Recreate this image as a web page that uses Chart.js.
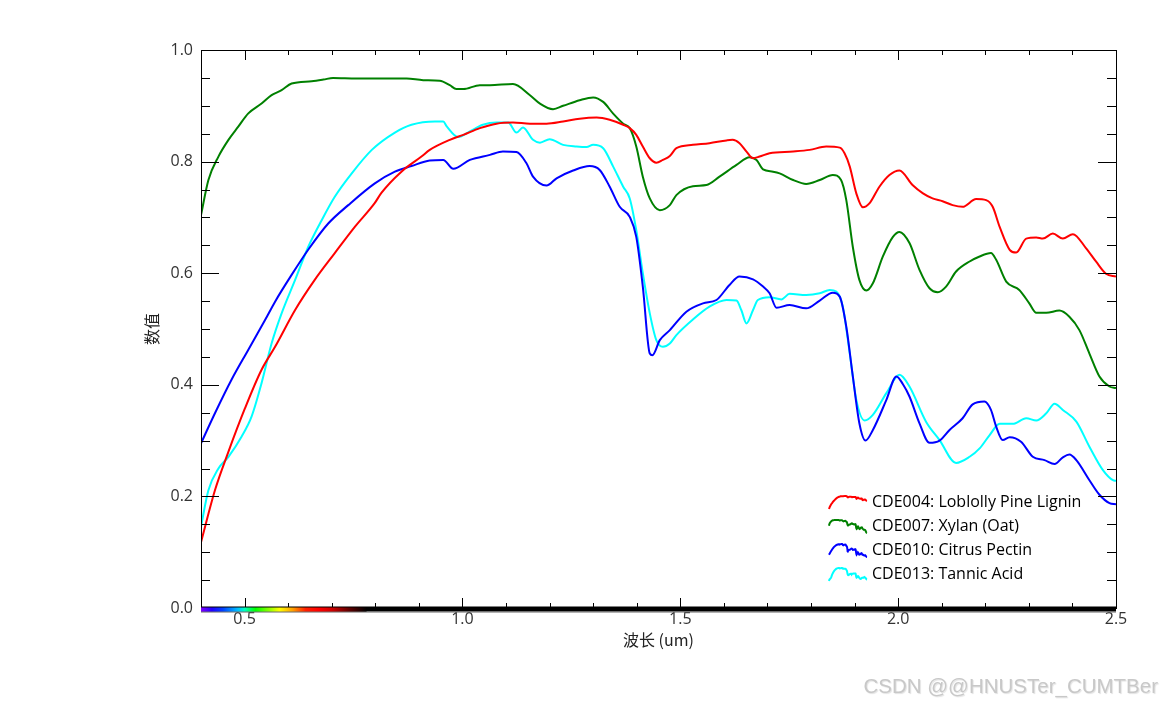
<!DOCTYPE html>
<html>
<head>
<meta charset="utf-8">
<script src="https://cdn.jsdelivr.net/npm/chart.js@4.4.1/dist/chart.umd.min.js"></script>
<style>
html,body{margin:0;padding:0;background:#fff;}
#wrap{position:relative;width:1162px;height:708px;overflow:hidden;}
#c{display:block;}
#wm{position:absolute;right:4px;top:676px;font:20.5px "Liberation Sans",Arial,sans-serif;line-height:20px;color:#c8c8c8;text-shadow:1px 1px 1px #e2e2e2;white-space:nowrap;}
</style>
</head>
<body>
<div id="wrap"><canvas id="c" width="1162" height="708"></canvas><div id="wm">CSDN @@HNUSTer_CUMTBer</div></div>
<script>
// ---- data (wavelength in um, reflectance) ----
const seriesNames = ["CDE004: Loblolly Pine Lignin", "CDE007: Xylan (Oat)", "CDE010: Citrus Pectin", "CDE013: Tannic Acid"];
const seriesColors = ["#ff0000", "#008000", "#0000ff", "#00ffff"];
const xTickValues = [0.5, 1.0, 1.5, 2.0, 2.5];
const yTickValues = [0.0, 0.2, 0.4, 0.6, 0.8, 1.0];
const xAxisTitle = "波长 (um)";
const yAxisTitle = "数值";

const ligninX = [0.400,0.432,0.462,0.501,0.539,0.570,0.616,0.661,0.707,0.753,0.799,0.814,0.860,0.906,0.925,0.971,1.002,1.040,1.078,1.116,1.155,1.193,1.231,1.269,1.308,1.338,1.369,1.384,1.399,1.414,1.430,1.445,1.460,1.476,1.491,1.529,1.567,1.606,1.620,1.636,1.652,1.667,1.682,1.705,1.759,1.797,1.835,1.866,1.877,1.889,1.904,1.919,1.934,1.957,1.980,2.003,2.033,2.057,2.079,2.102,2.125,2.148,2.179,2.202,2.217,2.233,2.256,2.271,2.294,2.317,2.332,2.355,2.378,2.401,2.431,2.454,2.477,2.500];
const ligninY = [0.118,0.211,0.278,0.358,0.427,0.468,0.534,0.588,0.636,0.683,0.726,0.744,0.782,0.809,0.821,0.839,0.848,0.860,0.868,0.870,0.868,0.868,0.872,0.877,0.879,0.875,0.866,0.860,0.848,0.827,0.806,0.798,0.803,0.810,0.824,0.830,0.833,0.838,0.839,0.833,0.818,0.806,0.809,0.815,0.818,0.821,0.827,0.825,0.815,0.791,0.743,0.718,0.725,0.755,0.776,0.784,0.758,0.743,0.734,0.729,0.722,0.719,0.733,0.731,0.719,0.683,0.642,0.637,0.662,0.664,0.662,0.671,0.662,0.670,0.645,0.621,0.599,0.594];

const xylanX = [0.400,0.417,0.440,0.463,0.486,0.508,0.539,0.562,0.585,0.608,0.654,0.681,0.703,0.757,0.833,0.872,0.910,0.948,0.971,0.986,1.002,1.040,1.063,1.116,1.155,1.178,1.208,1.231,1.269,1.300,1.323,1.346,1.369,1.384,1.399,1.414,1.430,1.453,1.476,1.491,1.529,1.560,1.590,1.629,1.659,1.675,1.690,1.713,1.728,1.759,1.789,1.820,1.850,1.869,1.881,1.896,1.911,1.927,1.942,1.965,1.988,2.003,2.026,2.049,2.072,2.091,2.110,2.133,2.164,2.187,2.213,2.225,2.248,2.278,2.301,2.317,2.340,2.370,2.393,2.416,2.439,2.462,2.485,2.500];
const xylanY = [0.704,0.767,0.809,0.839,0.863,0.886,0.904,0.919,0.928,0.940,0.944,0.947,0.950,0.949,0.949,0.949,0.946,0.945,0.937,0.930,0.930,0.937,0.937,0.939,0.919,0.904,0.894,0.900,0.910,0.915,0.907,0.886,0.868,0.860,0.827,0.773,0.734,0.713,0.722,0.740,0.756,0.758,0.773,0.794,0.808,0.803,0.786,0.782,0.779,0.767,0.760,0.767,0.776,0.767,0.731,0.647,0.588,0.569,0.582,0.630,0.665,0.674,0.654,0.606,0.573,0.566,0.576,0.603,0.621,0.630,0.636,0.624,0.585,0.570,0.546,0.529,0.529,0.533,0.522,0.498,0.456,0.415,0.397,0.394];

const pectinX = [0.400,0.432,0.470,0.508,0.547,0.570,0.608,0.646,0.692,0.738,0.799,0.845,0.883,0.925,0.956,0.979,1.017,1.063,1.093,1.124,1.147,1.162,1.193,1.216,1.254,1.292,1.315,1.338,1.361,1.384,1.399,1.414,1.430,1.436,1.453,1.476,1.514,1.552,1.583,1.613,1.636,1.667,1.690,1.705,1.721,1.751,1.789,1.820,1.850,1.866,1.881,1.896,1.911,1.925,1.942,1.973,1.996,2.011,2.026,2.049,2.072,2.095,2.118,2.148,2.171,2.198,2.213,2.225,2.240,2.256,2.282,2.309,2.336,2.359,2.378,2.393,2.409,2.439,2.462,2.485,2.500];
const pectinY = [0.295,0.349,0.409,0.462,0.516,0.549,0.597,0.642,0.689,0.722,0.761,0.782,0.792,0.802,0.803,0.787,0.803,0.812,0.818,0.817,0.797,0.773,0.757,0.770,0.784,0.792,0.785,0.755,0.719,0.701,0.665,0.576,0.456,0.453,0.480,0.498,0.531,0.546,0.552,0.579,0.594,0.589,0.576,0.564,0.538,0.543,0.537,0.551,0.565,0.558,0.504,0.415,0.331,0.300,0.319,0.373,0.415,0.401,0.379,0.331,0.296,0.300,0.319,0.340,0.365,0.370,0.355,0.325,0.301,0.306,0.298,0.271,0.265,0.258,0.270,0.275,0.265,0.229,0.203,0.188,0.186];

const tannicX = [0.400,0.417,0.440,0.463,0.493,0.516,0.539,0.562,0.585,0.616,0.646,0.677,0.707,0.746,0.792,0.845,0.883,0.937,0.956,0.964,0.990,1.017,1.047,1.078,1.105,1.124,1.139,1.162,1.178,1.200,1.231,1.262,1.285,1.300,1.323,1.346,1.369,1.384,1.399,1.414,1.430,1.445,1.460,1.476,1.491,1.529,1.567,1.606,1.629,1.640,1.652,1.667,1.678,1.705,1.732,1.751,1.789,1.820,1.843,1.858,1.873,1.889,1.904,1.923,1.942,1.973,2.003,2.026,2.064,2.095,2.133,2.164,2.187,2.210,2.233,2.263,2.294,2.317,2.340,2.359,2.378,2.409,2.439,2.470,2.493,2.500];
const tannicY = [0.146,0.211,0.250,0.271,0.307,0.343,0.403,0.474,0.528,0.588,0.647,0.695,0.737,0.779,0.821,0.852,0.866,0.872,0.872,0.863,0.844,0.854,0.866,0.870,0.870,0.852,0.861,0.839,0.834,0.840,0.830,0.827,0.826,0.830,0.824,0.791,0.755,0.734,0.677,0.600,0.528,0.480,0.468,0.474,0.489,0.517,0.540,0.552,0.551,0.534,0.510,0.534,0.552,0.557,0.553,0.563,0.561,0.564,0.570,0.567,0.540,0.456,0.373,0.336,0.346,0.385,0.418,0.397,0.334,0.301,0.260,0.271,0.286,0.310,0.330,0.330,0.340,0.336,0.349,0.366,0.355,0.334,0.289,0.247,0.229,0.228];

const allX = [ligninX, xylanX, pectinX, tannicX];
const allY = [ligninY, xylanY, pectinY, tannicY];

const FONT = '"Open Sans", "Noto Sans", "Noto Sans CJK SC", sans-serif';
const CJK = '"Noto Sans CJK SC", "Open Sans", sans-serif';

const datasets = seriesNames.map((name, i) => ({
  label: name,
  data: allX[i].map((x, k) => ({x: x, y: allY[i][k]})),
  borderColor: seriesColors[i],
  backgroundColor: seriesColors[i],
  borderWidth: 2,
  pointRadius: 0,
  fill: false,
  cubicInterpolationMode: 'monotone'
}));

const framePlugin = {
  id: 'frame',
  afterDraw(chart) {
    const ctx = chart.ctx;
    const a = chart.chartArea;
    const xs = chart.scales.x, ys = chart.scales.y;
    ctx.save();
    ctx.strokeStyle = '#000';
    ctx.lineWidth = 1;
    ctx.strokeRect(Math.round(a.left) + 0.5, Math.round(a.top) + 0.5, Math.round(a.right - a.left), Math.round(a.bottom - a.top));
    ctx.beginPath();
    for (let i = 4; i <= 25; i++) {
      const px = Math.round(xs.getPixelForValue(i / 10)) + 0.5;
      const len = (i % 5 === 0) ? 10 : 5;
      ctx.moveTo(px, a.bottom); ctx.lineTo(px, a.bottom - len);
      ctx.moveTo(px, a.top); ctx.lineTo(px, a.top + len);
    }
    for (let i = 0; i <= 20; i++) {
      const py = Math.round(ys.getPixelForValue(i / 20)) + 0.5;
      const len = (i % 4 === 0) ? 18 : 9;
      ctx.moveTo(a.left, py); ctx.lineTo(a.left + len, py);
      ctx.moveTo(a.right, py); ctx.lineTo(a.right - len, py);
    }
    ctx.stroke();
    const x0 = xs.getPixelForValue(0.4), x1 = xs.getPixelForValue(2.5);
    ctx.fillStyle = '#000';
    ctx.fillRect(x0, a.bottom - 1.5, x1 - x0, 5);
    ctx.fillStyle = '#666';
    ctx.fillRect(x0, a.bottom + 3.5, x1 - x0, 1);
    const s0 = xs.getPixelForValue(0.40), s1 = xs.getPixelForValue(0.78);
    const g = ctx.createLinearGradient(s0, 0, s1, 0);
    const stops = [[0.40,'#8000ff'],[0.425,'#2000ff'],[0.45,'#0040ff'],[0.485,'#00c0ff'],[0.50,'#00ffc0'],[0.525,'#00ff00'],[0.56,'#a0ff00'],[0.58,'#ffff00'],[0.61,'#ffa000'],[0.64,'#ff2000'],[0.67,'#ff0000'],[0.70,'#d00000'],[0.74,'#600000'],[0.78,'#000000']];
    stops.forEach(s => g.addColorStop((s[0] - 0.40) / 0.38, s[1]));
    ctx.fillStyle = g;
    ctx.fillRect(s0, a.bottom - 0.5, s1 - s0, 4);
    // legend
    const lx = 829, lw = 38, lh = 13, tx = 872;
    const ly = [501, 525, 549, 573];
    ctx.font = '16px ' + FONT;
    ctx.textBaseline = 'middle';
    ctx.textAlign = 'left';
    for (let i = 0; i < seriesNames.length; i++) {
      const X = allX[i], Y = allY[i];
      const mn = Math.min(...Y), mx = Math.max(...Y);
      const bot = ly[i] + 8;
      ctx.beginPath();
      ctx.strokeStyle = seriesColors[i];
      ctx.lineWidth = 2;
      X.forEach((x, k) => {
        const px = lx + (x - 0.4) / 2.1 * lw;
        const py = bot - (Y[k] - mn) / (mx - mn) * lh;
        if (k === 0) ctx.moveTo(px, py); else ctx.lineTo(px, py);
      });
      ctx.stroke();
      ctx.fillStyle = '#000';
      ctx.fillText(seriesNames[i], tx, ly[i] + 1);
    }
    ctx.restore();
  }
};

new Chart(document.getElementById('c'), {
  type: 'line',
  data: { datasets: datasets },
  options: {
    responsive: false,
    animation: false,
    devicePixelRatio: 1,
    layout: { padding: { left: 0, right: 46, top: 50, bottom: 0 } },
    plugins: { legend: { display: false }, tooltip: { enabled: false } },
    scales: {
      x: {
        type: 'linear',
        min: 0.4, max: 2.5,
        grid: { display: false, drawTicks: false },
        border: { display: false },
        afterBuildTicks: s => { s.ticks = xTickValues.map(v => ({ value: v })); },
        afterFit: s => { s.height = 100; },
        ticks: {
          autoSkip: false, maxRotation: 0, padding: 2,
          color: '#333', font: { family: FONT, size: 16 },
          callback: v => Number(v).toFixed(1)
        },
        title: { display: true, text: xAxisTitle, color: '#222', font: { family: CJK, size: 16 }, padding: { top: 0, bottom: 58 } }
      },
      y: {
        type: 'linear',
        min: 0, max: 1,
        grid: { display: false, drawTicks: false },
        border: { display: false },
        afterBuildTicks: s => { s.ticks = yTickValues.map(v => ({ value: v })); },
        afterFit: s => { s.width = 201; },
        ticks: {
          autoSkip: false, padding: 8,
          color: '#333', font: { family: FONT, size: 16 },
          callback: v => Number(v).toFixed(1)
        },
        title: { display: true, text: yAxisTitle, color: '#222', font: { family: CJK, size: 16 }, padding: { top: 142, bottom: 0 } }
      }
    }
  },
  plugins: [framePlugin]
});
</script>
</body>
</html>
